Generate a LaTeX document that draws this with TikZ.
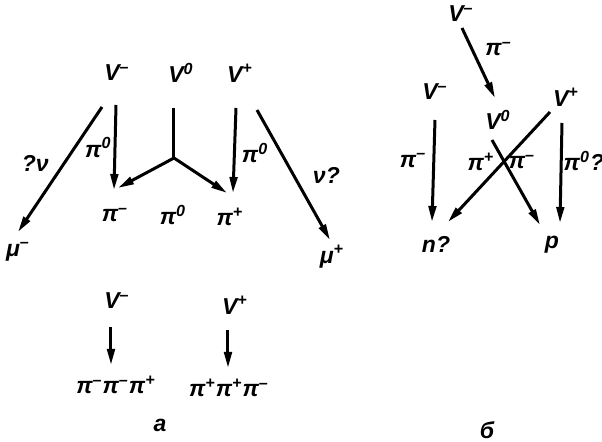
\documentclass[tikz,border=0pt]{standalone}
\usepackage{fontspec}
\setmainfont{Liberation Sans}
\usepackage{tikz}
\usetikzlibrary{arrows.meta,calc}
\newcommand{\chg}[1]{\textsuperscript{#1}}

\begin{document}
\begin{tikzpicture}[
  x=0.5pt,y=-0.5pt,
  >={Triangle[length=8pt,width=3.8pt]},
  font=\fontsize{11.5}{13}\selectfont\bfseries\itshape,
  part/.style={inner sep=1pt},
  lbl/.style={inner sep=1pt},
  arrow/.style={->, line width=1.5pt},
  track/.style={line width=1.5pt}
]
\useasboundingbox (0,0) rectangle (602,442);

% (a) decays of the charged and neutral V particles
\node[part] (Vm) at (117,73) {V\chg{–}};
\node[part] (V0) at (181,73) {V\chg{0}};
\node[part] (Vp) at (240,73) {V\chg{+}};
\node[part] (mum) at (18,252) {μ\chg{–}};
\node[part] (pim) at (115,215) {π\chg{–}};
\node[part] (pi0) at (173,215) {π\chg{0}};
\node[part] (pip) at (230,217) {π\chg{+}};
\node[part] (mup) at (332,257) {μ\chg{+}};
\coordinate (fork) at (174,158);

\draw[arrow] ($(Vm)+(-15,34)$) -- node[lbl,pos=.45,left=6pt]{?ν} ($(mum)+(0,-20)$);
\draw[arrow] ($(Vm)+(-1,32)$) -- node[lbl,pos=.5,left=0pt]{π\chg{0}} ($(pim)+(-1,-25)$);
\draw[track] ($(V0)+(-7,35)$) -- (fork);
\draw[arrow] (fork) -- ($(pim)+(3,-27)$);
\draw[arrow] (fork) -- ($(pip)+(-3,-24)$);
\draw[arrow] ($(Vp)+(-4,35)$) -- node[lbl,pos=.53,right=2pt]{π\chg{0}} ($(pip)+(3,-24)$);
\draw[arrow] ($(Vp)+(17,37)$) -- node[lbl,pos=.5,right=8pt]{ν?} ($(mup)+(-2,-17)$);

% three-pion modes
\node[part] (Vm2) at (117,301) {V\chg{–}};
\node[part] (Vp2) at (235,305) {V\chg{+}};
\node[part] (res1) at (116,385) {π\chg{–}π\chg{–}π\chg{+}};
\node[part] (res2) at (229,388) {π\chg{+}π\chg{+}π\chg{–}};
\draw[arrow] ($(Vm2)+(-6,26)$) -- ($(res1)+(-5,-20)$);
\draw[arrow] ($(Vp2)+(-7,25)$) -- ($(res2)+(-1,-20)$);
\node[part] (capA) at (160,425) {а};

% (b) cascade and crossing decays
\node[part] (bVt) at (461,14) {V\chg{–}};
\node[part] (bVm) at (435,92) {V\chg{–}};
\node[part] (bV0) at (498,120) {V\chg{0}};
\node[part] (bVp) at (566,97) {V\chg{+}};
\node[part] (n) at (436,244) {n?};
\node[part] (p) at (552,245) {p};

\draw[arrow] ($(bVt)+(1,14)$) -- node[lbl,pos=.3,right=5pt]{π\chg{–}} ($(bV0)+(-3,-22)$);
\draw[arrow] ($(bVm)+(0,28)$) -- node[lbl,pos=.4,left=2pt]{π\chg{–}} ($(n)+(-4,-22)$);
\draw[arrow] ($(bV0)+(-6,20)$) -- ($(p)+(-12,-20)$);
\draw[arrow] ($(bVp)+(-16,15)$) -- ($(n)+(12,-22)$);
\draw[arrow] ($(bVp)+(-4,26)$) -- node[lbl,pos=.38,right=0pt,inner sep=0.5pt]{π\chg{0}?} ($(p)+(8,-22)$);
\node[lbl] (lpip) at (481,162) {π\chg{+}};
\node[lbl] (lpim) at (522,162) {π\chg{–}};
\node[part] (capB) at (487,430) {б};
\end{tikzpicture}
\end{document}
